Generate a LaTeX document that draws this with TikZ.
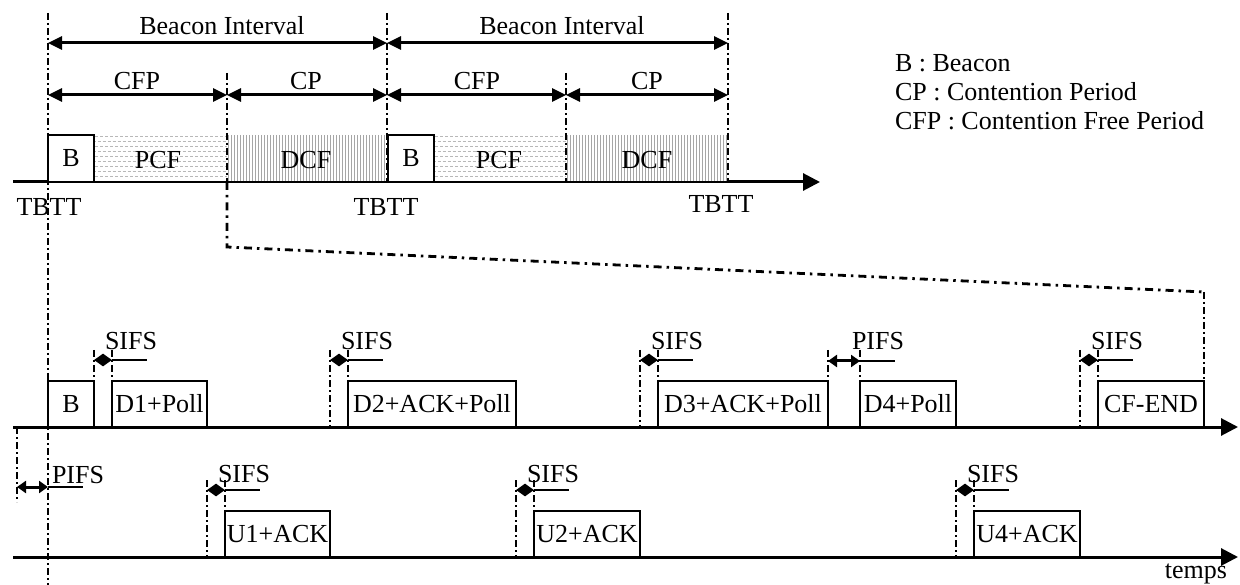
\documentclass[tikz,border=0pt]{standalone}
\usepackage{fontspec}
\setmainfont{Liberation Serif}
\usetikzlibrary{arrows.meta}
\begin{document}
\begin{tikzpicture}[x=1pt,y=-1pt,
  every node/.style={font=\fontsize{26}{28}\selectfont, inner sep=0pt, outer sep=0pt},
  frame/.style={draw, line width=2pt},
  axis/.style={line width=3pt, -{Triangle[length=17pt,width=17pt]}},
  dd/.style={line width=2.2pt, dash pattern=on 7pt off 3pt on 2pt off 3pt},
  zoomline/.style={line width=2.8pt, dash pattern=on 8pt off 5pt on 2.5pt off 5pt},
  period/.style={line width=3pt, {Triangle[length=14pt,width=13pt]}-{Triangle[length=14pt,width=13pt]}},
  gaparrow/.style={line width=3pt, {Triangle[length=9pt,width=12pt]}-{Triangle[length=9pt,width=12pt]}},
  ext/.style={line width=1.5pt},
  pcfh/.style={black!28, line width=1pt, dash pattern=on 3pt off 2pt},
  dcfh/.style={black!35, line width=1pt},
]
\useasboundingbox (0,0) rectangle (1240,585);

% ---------- hatched periods (top) ----------
\foreach \a/\b in {95/227, 435/566} {
  \begin{scope}
    \clip (\a,135) rectangle (\b,182);
    \foreach \y in {137,147,...,182} \draw[pcfh] (\a,\y) -- (\b,\y);
    \foreach \y in {142,152,...,182} \draw[pcfh, dash phase=2.5pt] (\a,\y) -- (\b,\y);
  \end{scope}
}
\foreach \a/\b in {227/387, 566/728} {
  \begin{scope}
    \clip (\a,135) rectangle (\b,182);
    \foreach \x in {0,3,...,165} \draw[dcfh] ({\a+\x+1.5},135) -- ({\a+\x+1.5},182);
  \end{scope}
}

% ---------- top boxes and labels ----------
\node[frame, minimum width=46pt, minimum height=47pt, anchor=north west] (tb1) at (48,135) {B};
\node[frame, minimum width=46pt, minimum height=47pt, anchor=north west] (tb2) at (388,135) {B};
\node (pcf1) at (158,160) {PCF};
\node (dcf1) at (306,160) {DCF};
\node (pcf2) at (499,160) {PCF};
\node (dcf2) at (647,160) {DCF};

% ---------- top axis ----------
\coordinate (ta0) at (13,182);
\coordinate (ta1) at (48,182);
\coordinate (ta2) at (728,182);
\coordinate (ta3) at (820,182);
\draw[line width=3pt] (ta0) -- (ta1);
\draw[line width=2pt] (ta1) -- (ta2);
\draw[axis] (ta2) -- (ta3);

% ---------- vertical markers (top) ----------
\coordinate (v0t) at (48,13);   \coordinate (v0b) at (48,585);
\coordinate (v1t) at (387,13);  \coordinate (v1b) at (387,182);
\coordinate (v2t) at (728,13);  \coordinate (v2b) at (728,182);
\coordinate (d1t) at (227,73);  \coordinate (d1b) at (227,182);
\coordinate (d2t) at (566,73);  \coordinate (d2b) at (566,182);
\draw[dd] (v0t) -- (v0b);
\draw[dd] (v1t) -- (v1b);
\draw[dd] (v2t) -- (v2b);
\draw[dd] (d1t) -- (d1b);
\draw[dd] (d2t) -- (d2b);

% ---------- period arrows ----------
\coordinate (p0) at (48,43); \coordinate (p1) at (387,43); \coordinate (p2) at (728,43);
\draw[period] (p0) -- (p1);
\draw[period] (p1) -- (p2);
\node[anchor=base] (bi1) at (222,35) {Beacon Interval};
\node[anchor=base] (bi2) at (562,35) {Beacon Interval};
\coordinate (q0) at (48,95); \coordinate (q1) at (227,95); \coordinate (q2) at (387,95);
\coordinate (q3) at (566,95); \coordinate (q4) at (728,95);
\draw[period] (q0) -- (q1);
\draw[period] (q1) -- (q2);
\draw[period] (q2) -- (q3);
\draw[period] (q3) -- (q4);
\node[anchor=base] (cfp1) at (137,90) {CFP};
\node[anchor=base] (cp1)  at (306,90) {CP};
\node[anchor=base] (cfp2) at (477,90) {CFP};
\node[anchor=base] (cp2)  at (647,90) {CP};

% ---------- TBTT ----------
\node[anchor=base] (tbtt1) at (49,216) {TBTT};
\node[anchor=base] (tbtt2) at (386,216) {TBTT};
\node[anchor=base] (tbtt3) at (721,213) {TBTT};

% ---------- legend ----------
\node[anchor=base west] (leg1) at (895,72)  {B : Beacon};
\node[anchor=base west] (leg2) at (895,101) {CP : Contention Period};
\node[anchor=base west] (leg3) at (895,130) {CFP : Contention Free Period};

% ---------- zoom line ----------
\coordinate (z0) at (227,182);
\coordinate (z1) at (227,247);
\coordinate (z2) at (1204,292);
\coordinate (z3) at (1204,427);
\draw[zoomline] (z0) -- (z1) -- (z2);
\draw[dd] (z2) -- (z3);

% ---------- row 1 (PC) ----------
\node[frame, minimum width=46pt,  minimum height=46pt, anchor=south west] (rB)  at (48,427)   {B};
\node[frame, minimum width=95pt,  minimum height=46pt, anchor=south west] (rD1) at (112,427)  {D1+Poll};
\node[frame, minimum width=168pt, minimum height=46pt, anchor=south west] (rD2) at (348,427)  {D2+ACK+Poll};
\node[frame, minimum width=170pt, minimum height=46pt, anchor=south west] (rD3) at (658,427)  {D3+ACK+Poll};
\node[frame, minimum width=96pt,  minimum height=46pt, anchor=south west] (rD4) at (860,427)  {D4+Poll};
\node[frame, minimum width=106pt, minimum height=46pt, anchor=south west] (rCE) at (1098,427) {CF-END};

% ---------- row 2 (stations) ----------
\node[frame, minimum width=105pt, minimum height=46pt, anchor=south west] (rU1) at (225,557) {U1+ACK};
\node[frame, minimum width=106pt, minimum height=46pt, anchor=south west] (rU2) at (534,557) {U2+ACK};
\node[frame, minimum width=106pt, minimum height=46pt, anchor=south west] (rU4) at (974,557) {U4+ACK};

% ---------- axes ----------
\coordinate (a1s) at (13,427); \coordinate (a1e) at (1238,427);
\coordinate (a2s) at (13,557); \coordinate (a2e) at (1238,557);
\draw[axis] (a1s) -- (a1e);
\draw[axis] (a2s) -- (a2e);
\node[anchor=base east] (temps) at (1227,578) {temps};

% ---------- interframe spaces ----------
\foreach \xl/\xr/\yt/\yb/\ya/\lab/\lx/\lb [count=\i] in {
   94/112/350/427/360/SIFS/105/350,
   330/348/350/427/360/SIFS/341/350,
   640/658/350/427/360/SIFS/651/350,
   828/860/350/427/361/PIFS/852/350,
   1080/1098/350/427/360/SIFS/1091/350,
   207/225/480/557/490/SIFS/218/482,
   516/534/480/557/490/SIFS/527/482,
   956/974/480/557/490/SIFS/967/482} {
  \coordinate (gl\i t) at (\xl,\yt); \coordinate (gl\i b) at (\xl,\yb);
  \coordinate (gr\i t) at (\xr,\yt); \coordinate (gr\i b) at (\xr,\yb);
  \coordinate (ga\i l) at (\xl,\ya); \coordinate (ga\i r) at (\xr,\ya);
  \coordinate (ge\i) at ({\xr+35},\ya);
  \draw[dd] (gl\i t) -- (gl\i b);
  \draw[dd] (gr\i t) -- (gr\i b);
  \draw[gaparrow] (ga\i l) -- (ga\i r);
  \draw[ext] (ga\i r) -- (ge\i);
  \node[anchor=base west] (glab\i) at (\lx,\lb) {\lab};
}

% PIFS before the beacon
\coordinate (pft) at (17,427); \coordinate (pfb) at (17,502);
\coordinate (pfl) at (17,487); \coordinate (pfr) at (48,487); \coordinate (pfe) at (83,487);
\draw[dd] (pft) -- (pfb);
\draw[gaparrow] (pfl) -- (pfr);
\draw[ext] (pfr) -- (pfe);
\node[anchor=base west] (pflab) at (52,483) {PIFS};

\end{tikzpicture}
\end{document}
